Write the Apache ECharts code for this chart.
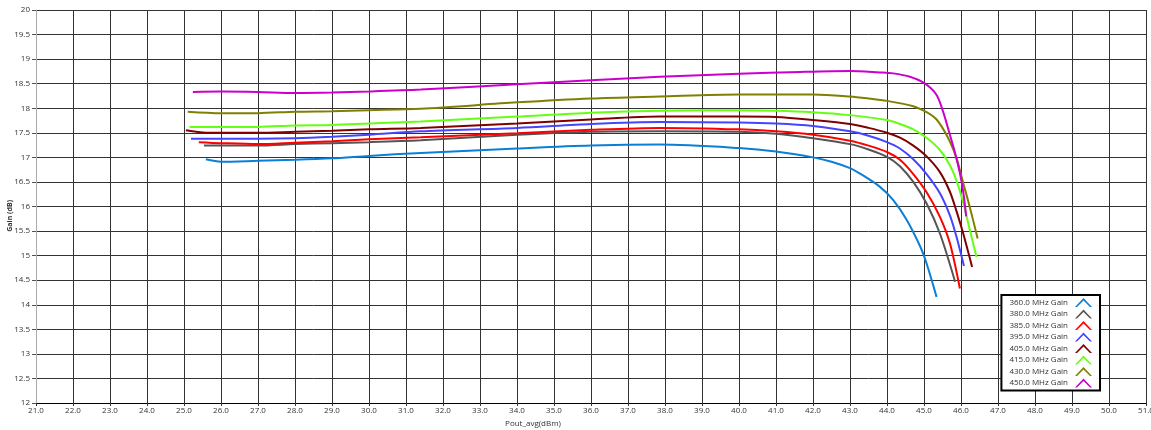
<!DOCTYPE html>
<html>
<head>
<meta charset="utf-8">
<script src="https://cdn.jsdelivr.net/npm/echarts@6/dist/echarts.min.js"></script>
<style>html,body{margin:0;padding:0;background:#fff}#c{width:1151px;height:430px}</style>
</head>
<body>
<div id="c"></div>
<script>
var seriesNames = ['360.0 MHz Gain','380.0 MHz Gain','385.0 MHz Gain','395.0 MHz Gain','405.0 MHz Gain','415.0 MHz Gain','430.0 MHz Gain','450.0 MHz Gain'];
var colors = ['#0a7fd8','#555555','#ff0000','#4545ff','#800000','#66ff14','#808000','#cc00cc'];

var g360 = [[25.59,16.96],[26,16.91],[27,16.93],[28,16.95],[29,16.98],[30,17.03],[31.4,17.09],[34,17.18],[36,17.24],[37.86,17.26],[40,17.19],[41,17.12],[42,17.0],[42.5,16.91],[43,16.78],[43.27,16.67],[43.81,16.40],[44.17,16.13],[44.53,15.73],[44.9,15.18],[45.07,14.84],[45.34,14.16]];
var g380 = [[25.54,17.24],[26,17.24],[27,17.24],[28,17.27],[29,17.29],[30,17.31],[31.4,17.35],[34,17.46],[36,17.52],[37.86,17.53],[40,17.52],[41,17.48],[42,17.39],[43,17.27],[43.5,17.16],[44,17.01],[44.35,16.82],[44.71,16.50],[45.07,16.06],[45.43,15.45],[45.84,14.47]];
var g385 = [[25.4,17.31],[26,17.29],[27,17.27],[28,17.30],[29,17.33],[30,17.37],[31.4,17.41],[34,17.49],[36,17.56],[37.86,17.60],[40,17.57],[41,17.53],[42,17.46],[43,17.34],[43.5,17.24],[44,17.11],[44.35,16.95],[44.71,16.66],[45.07,16.29],[45.43,15.79],[45.7,15.25],[45.97,14.33]];
var g395 = [[25.19,17.38],[26,17.38],[27,17.38],[28,17.39],[29,17.42],[30,17.46],[31.4,17.53],[34,17.60],[36,17.68],[37.86,17.72],[40,17.71],[41,17.69],[42,17.64],[43,17.53],[43.5,17.44],[44,17.31],[44.35,17.18],[44.71,16.96],[45.07,16.66],[45.43,16.27],[45.7,15.82],[45.88,15.38],[46.08,14.79]];
var g405 = [[25.05,17.55],[25.6,17.50],[26,17.50],[27,17.50],[28,17.52],[29,17.54],[30,17.57],[31.4,17.60],[34,17.69],[36,17.77],[37.86,17.83],[40,17.83],[41,17.82],[42,17.76],[43,17.68],[43.5,17.60],[44,17.50],[44.35,17.40],[44.71,17.24],[45.07,17.02],[45.43,16.70],[45.7,16.30],[45.88,15.90],[46.06,15.45],[46.3,14.77]];
var g415 = [[25.15,17.62],[26,17.62],[27,17.62],[28,17.65],[29,17.66],[30,17.69],[31.4,17.73],[34,17.83],[36,17.91],[37.86,17.95],[40,17.96],[41,17.95],[42,17.92],[43,17.86],[44,17.76],[44.35,17.68],[44.71,17.57],[45.07,17.40],[45.43,17.15],[45.7,16.84],[45.88,16.52],[46.06,16.08],[46.24,15.52],[46.42,14.97]];
var g430 = [[25.1,17.93],[26,17.90],[27,17.90],[28,17.93],[29,17.94],[30,17.96],[31.4,17.99],[34,18.12],[36,18.20],[37.86,18.24],[40,18.28],[42,18.28],[43,18.24],[43.5,18.20],[44,18.15],[44.71,18.04],[45.07,17.92],[45.3,17.80],[45.5,17.60],[45.7,17.32],[45.88,16.98],[46.06,16.48],[46.24,15.98],[46.45,15.35]];
var g450 = [[25.24,18.33],[26,18.34],[27,18.33],[28,18.31],[29,18.32],[30,18.34],[31.4,18.38],[34,18.49],[36,18.57],[37.86,18.64],[40,18.70],[41.65,18.74],[43,18.76],[43.8,18.73],[44.17,18.71],[44.62,18.64],[45.03,18.50],[45.34,18.27],[45.52,17.92],[45.7,17.46],[45.84,17.09],[45.97,16.68],[46.06,16.30],[46.14,15.80]];
var allData = [g360,g380,g385,g395,g405,g415,g430,g450];

var chart = echarts.init(document.getElementById('c'), null, {renderer:'canvas'});
var series = allData.map(function(d,i){
  return {name: seriesNames[i], type:'line', data: d, smooth: 0.3, symbol:'none',
    lineStyle:{color: colors[i], width: 2}, itemStyle:{color: colors[i]}, z: 3 + i};
});
var chevron = 'path://M0,9 L8.5,0 L17,9 L15,9 L8.5,2.4 L2,9 Z';
var legendData = seriesNames.map(function(n,i){
  return {name: n, icon: chevron, itemStyle:{color: colors[i]}};
});
chart.setOption({
  animation:false,
  backgroundColor:'#fff',
  textStyle:{fontFamily:'Open Sans'},
  grid:{left:36, right:5, top:10, bottom:27, containLabel:false, outerBoundsMode:'none'},
  graphic:[{type:'text', left:6, top:200, rotation:Math.PI/2,
    style:{text:'Gain (dB)', font:'bold 7px "Open Sans"', fill:'#333'}}],
  xAxis:{type:'value', min:21, max:51, interval:1,
    name:'Pout_avg(dBm)', nameLocation:'middle', nameGap:14,
    nameTextStyle:{fontSize:8, color:'#333', padding:[0,116,0,0]},
    axisLine:{lineStyle:{color:'#000', width:1}},
    axisTick:{show:true, length:3, lineStyle:{color:'#333'}},
    axisLabel:{fontSize:8, color:'#333', margin:4, formatter:function(v){return v.toFixed(1);}},
    splitLine:{lineStyle:{color:'#333', width:1}}},
  yAxis:{type:'value', min:12, max:20, interval:0.5,
    axisLine:{show:true, lineStyle:{color:'#aaa', width:1}},
    axisTick:{show:true, length:4, lineStyle:{color:'#555'}},
    axisLabel:{fontSize:8, color:'#333', margin:6},
    splitLine:{lineStyle:{color:'#333', width:1}}},
  legend:{right:51, top:295, orient:'vertical', align:'right',
    backgroundColor:'#fff', borderColor:'#000', borderWidth:2,
    padding:[3,8,3,8], itemGap:2.5, itemWidth:17, itemHeight:9,
    textStyle:{fontSize:8, color:'#333', padding:[0,2,0,0]},
    data: legendData},
  series: series
});
</script>
</body>
</html>
